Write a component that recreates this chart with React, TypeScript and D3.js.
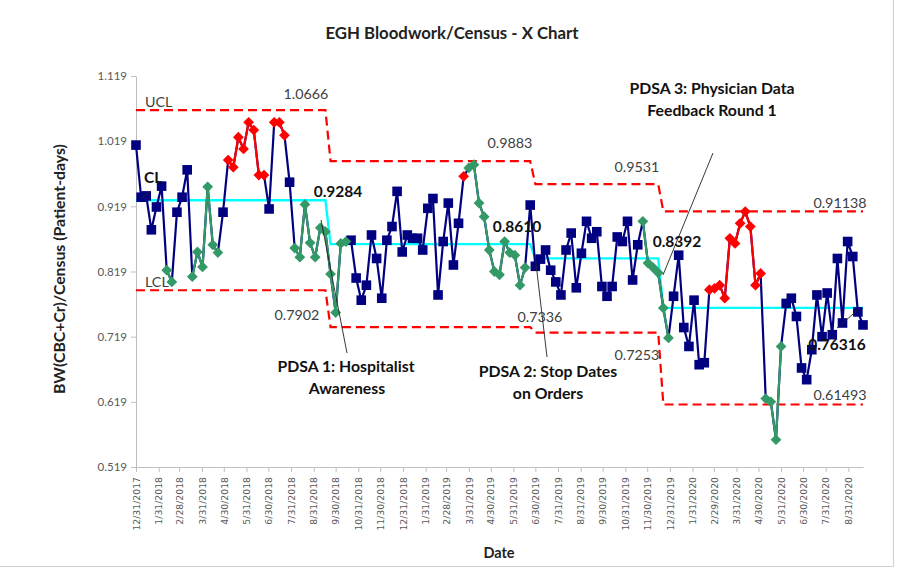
import { useEffect, useRef } from "react";
import * as d3 from "d3";

const width = 903;
const height = 571;

// weekly X values, split by phase (n = normal, r = red signal, g = green signal)
const phase1Values = [
  1.013, 0.933, 0.935, 0.883, 0.918, 0.95, 0.821, 0.803, 0.91, 0.933,
  0.975, 0.811, 0.849, 0.826, 0.949, 0.86, 0.848, 0.91, 0.99, 0.979,
  1.025, 1.007, 1.048, 1.036, 0.967, 0.967, 0.915, 1.048, 1.048, 1.028,
  0.956, 0.855, 0.841, 0.922, 0.863, 0.841, 0.886, 0.88
];
const phase1Flags = "nnnnnnggnnnggggggnrrrrrrrrnrrrnggggggg";

const phase2Values = [
  0.815, 0.756, 0.862, 0.865, 0.867, 0.809, 0.775, 0.798, 0.875, 0.839,
  0.778, 0.867, 0.888, 0.942, 0.849, 0.875, 0.87, 0.87, 0.852, 0.916,
  0.931, 0.783, 0.865, 0.924, 0.829, 0.893, 0.965, 0.978, 0.983, 0.924,
  0.903, 0.852, 0.819, 0.814, 0.865, 0.848, 0.844, 0.798, 0.825, 0.921
];
const phase2Flags = "ggggnnnnnnnnnnnnnnnnnnnnnnrggggggggggggn";

const phase3Values = [
  0.827, 0.838, 0.852, 0.821, 0.803, 0.783, 0.852, 0.878, 0.794, 0.847,
  0.896, 0.87, 0.88, 0.796, 0.781, 0.796, 0.872, 0.865, 0.896, 0.806,
  0.86, 0.896, 0.832, 0.825, 0.817
];
const phase3Flags = "nnnnnnnnnnnnnnnnnnnnngggg";

const phase4Values = [
  0.763, 0.717, 0.781, 0.844, 0.733, 0.704, 0.775, 0.676, 0.679, 0.791,
  0.793, 0.798, 0.778, 0.87, 0.862, 0.893, 0.911, 0.888, 0.798, 0.816,
  0.624, 0.619, 0.561, 0.704, 0.77, 0.778, 0.75, 0.671, 0.653, 0.699,
  0.783, 0.719, 0.786, 0.722, 0.839, 0.74, 0.865, 0.842, 0.757, 0.737
];
const phase4Flags = "ggnnnnnnnrrrrrrrrrrrggggnnnnnnnnnnnnnnnn";

const phaseCL = [0.9284, 0.861, 0.8392, 0.76316];
const phaseUCL = [1.0666, 0.9883, 0.9531, 0.91138];
const phaseLCL = [0.7902, 0.7336, 0.7253, 0.61493];

const yTicks = [0.519, 0.619, 0.719, 0.819, 0.919, 1.019, 1.119];

const navy = "#000080";
const red = "#ff0000";
const green = "#339966";
const cyan = "#00ffff";
const grey = "#404040";
const font = "Lato, 'Open Sans', sans-serif";

function App() {
  const ref = useRef(null);

  useEffect(() => {
    const svg = d3.select(ref.current);
    svg.selectAll("*").remove();

    const phases = [
      [phase1Values, phase1Flags],
      [phase2Values, phase2Flags],
      [phase3Values, phase3Flags],
      [phase4Values, phase4Flags]
    ];
    const start = new Date(2017, 11, 31);
    const points = [];
    phases.forEach(([vals, flags], p) => {
      vals.forEach((v, k) => {
        points.push({
          date: d3.timeDay.offset(start, 7 * points.length),
          value: v,
          flag: flags[k],
          phase: p
        });
      });
    });

    const x = d3.scaleTime([start, points[points.length - 1].date], [136, 863]);
    const y = d3.scaleLinear([0.519, 1.119], [467, 76]);

    // chart frame (right and bottom edges are visible in the crop)
    svg.append("path").attr("d", "M893.5,0V566.5H0")
      .attr("fill", "none").attr("stroke", "#d0d0d0").attr("stroke-width", 1);

    // title
    svg.append("text")
      .text("EGH Bloodwork/Census - X Chart")
      .attr("x", 452).attr("y", 39)
      .attr("text-anchor", "middle")
      .style("font-family", font).style("font-weight", "bold").style("font-size", "16.8px")
      .attr("fill", "#222");

    // y axis
    const leftAxis = d3.axisLeft(y).tickValues(yTicks).tickFormat(d3.format(".3f")).tickSize(5).tickSizeOuter(0);
    const gy = svg.append("g").attr("class", "axis-y").attr("transform", "translate(136,0)").call(leftAxis);
    gy.select(".domain").attr("stroke", "#bfbfbf");
    gy.selectAll(".tick line").attr("stroke", "#bfbfbf");
    gy.selectAll(".tick text")
      .attr("x", -9)
      .style("font-family", font).style("font-size", "11.5px").attr("fill", "#595959");

    // x axis with month-end ticks
    const monthEnds = d3.timeMonth.range(new Date(2018, 0, 1), new Date(2020, 8, 2))
      .map(d => d3.timeDay.offset(d, -1));
    const bottomAxis = d3.axisBottom(x).tickValues(monthEnds).tickFormat(d3.timeFormat("%-m/%-d/%Y")).tickSize(5).tickSizeOuter(0);
    const gx = svg.append("g").attr("class", "axis-x").attr("transform", "translate(0,467)").call(bottomAxis);
    gx.select(".domain").attr("stroke", "#bfbfbf");
    gx.selectAll(".tick line").attr("stroke", "#bfbfbf");
    gx.selectAll(".tick text")
      .attr("transform", "rotate(-90)")
      .attr("text-anchor", "end")
      .attr("x", -10).attr("y", 0).attr("dy", "0.35em")
      .style("font-family", "'DejaVu Sans', sans-serif").style("font-size", "9.3px").attr("fill", "#595959");

    // axis titles
    svg.append("text").text("Date")
      .attr("x", 499).attr("y", 558).attr("text-anchor", "middle")
      .style("font-family", font).style("font-weight", "bold").style("font-size", "14.5px").attr("fill", "#222");
    svg.append("text").text("BW(CBC+Cr)/Census (Patient-days)")
      .attr("transform", "translate(65,269) rotate(-90)").attr("text-anchor", "middle")
      .style("font-family", font).style("font-weight", "bold").style("font-size", "15.8px").attr("fill", "#222");

    // control limits
    const limitLine = arr => d3.line().x(d => x(d.date)).y(d => y(arr[d.phase]));
    svg.append("path").attr("d", limitLine(phaseUCL)(points))
      .attr("fill", "none").attr("stroke", red).attr("stroke-width", 2.2).attr("stroke-dasharray", "9,5");
    svg.append("path").attr("d", limitLine(phaseLCL)(points))
      .attr("fill", "none").attr("stroke", red).attr("stroke-width", 2.2).attr("stroke-dasharray", "9,5");
    svg.append("path").attr("d", limitLine(phaseCL)(points))
      .attr("fill", "none").attr("stroke", cyan).attr("stroke-width", 2.4);

    // main series
    const lineGenerator = d3.line().x(d => x(d.date)).y(d => y(d.value));
    svg.append("path").attr("d", lineGenerator(points))
      .attr("fill", "none").attr("stroke", navy).attr("stroke-width", 2.2);

    svg.selectAll(".sq")
      .data(points.filter(d => d.flag === "n"))
      .join("rect")
      .attr("x", d => x(d.date) - 4.8).attr("y", d => y(d.value) - 4.8)
      .attr("width", 9.6).attr("height", 9.6)
      .attr("fill", navy);

    // signal overlays
    [["r", red], ["g", green]].forEach(([flag, color]) => {
      const seg = d3.line().defined(d => d.flag === flag).x(d => x(d.date)).y(d => y(d.value));
      svg.append("path").attr("d", seg(points))
        .attr("fill", "none").attr("stroke", color).attr("stroke-width", 2.2);
      svg.selectAll(".dm-" + flag)
        .data(points.filter(d => d.flag === flag))
        .join("path")
        .attr("d", d3.symbol(d3.symbolDiamond2, 74)())
        .attr("transform", d => `translate(${x(d.date)},${y(d.value)})`)
        .attr("fill", color);
    });

    // leader lines
    const leaders = [
      [141, 199, 151, 191],
      [321, 220, 347, 353],
      [535, 255, 547, 357],
      [713, 153, 663, 275],
      [837, 328, 860, 308]
    ];
    svg.selectAll(".leader").data(leaders).join("line")
      .attr("x1", d => d[0]).attr("y1", d => d[1]).attr("x2", d => d[2]).attr("y2", d => d[3])
      .attr("stroke", "#222").attr("stroke-width", 0.9);

    // labels on the limits and annotations
    const labels = [
      ["UCL", 145, 107, "start", false],
      ["CL", 144, 183, "start", true],
      ["LCL", 145, 287, "start", false],
      ["1.0666", 306, 99, "middle", false],
      ["0.9284", 338, 197, "middle", true],
      ["0.7902", 297, 320, "middle", false],
      ["0.9883", 510, 148, "middle", false],
      ["0.8610", 517, 232, "middle", true],
      ["0.7336", 540, 322, "middle", false],
      ["0.9531", 637, 172, "middle", false],
      ["0.8392", 677, 247, "middle", true],
      ["0.7253", 637, 360, "middle", false],
      ["0.91138", 840, 208, "middle", false],
      ["0.76316", 837, 350, "middle", true],
      ["0.61493", 840, 400, "middle", false],
      ["PDSA 1: Hospitalist", 346, 372, "middle", true],
      ["Awareness", 347, 394, "middle", true],
      ["PDSA 2: Stop Dates", 548, 377, "middle", true],
      ["on Orders", 548, 399, "middle", true],
      ["PDSA 3: Physician Data", 712, 94, "middle", true],
      ["Feedback Round 1", 712, 116, "middle", true]
    ];
    svg.selectAll(".lbl").data(labels).join("text")
      .text(d => d[0])
      .attr("x", d => d[1]).attr("y", d => d[2])
      .attr("text-anchor", d => d[3])
      .style("font-family", font)
      .style("font-size", d => (d[4] ? (d[0].length > 7 ? "15.8px" : "15.5px") : "14.3px"))
      .style("font-weight", d => (d[4] ? "bold" : "normal"))
      .attr("fill", d => (d[4] ? "#111" : grey));
  }, []);

  return (
    <svg
      ref={ref}
      width={width}
      height={height}
      style={{ position: "absolute", left: 0, top: 0, background: "#fff" }}
    />
  );
}

export default App;
